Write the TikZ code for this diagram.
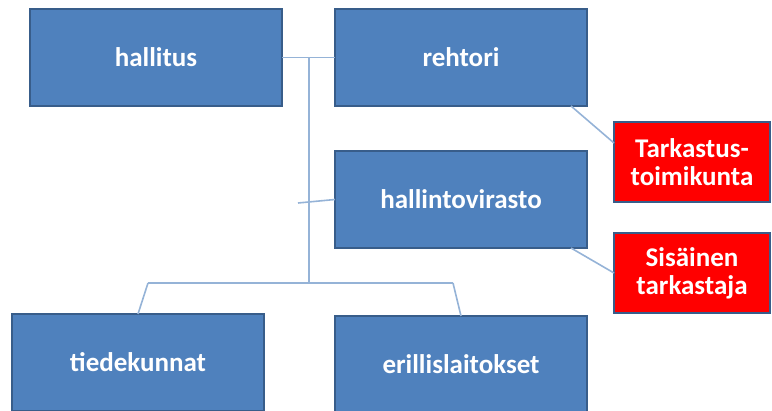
\documentclass[tikz,border=0pt]{standalone}
\usepackage{fontspec}
\setmainfont{Carlito}
\usepackage{xcolor}
\usetikzlibrary{positioning}

\definecolor{boxblue}{HTML}{4F81BD}
\definecolor{boxedge}{HTML}{385D8A}
\definecolor{linkblue}{HTML}{95B3D7}
\definecolor{auditred}{HTML}{FF0000}

\tikzset{
	unit/.style={draw=boxedge, line width=2pt, fill=boxblue, text=white,
		minimum width=252pt, minimum height=97pt, inner sep=0pt, outer sep=0pt,
		font=\fontsize{27}{28}\selectfont\bfseries, align=center},
	audit/.style={unit, fill=auditred, minimum width=156pt, minimum height=80pt},
	link/.style={draw=linkblue, line width=1.6pt}
}

\begin{document}
\begin{tikzpicture}[x=1pt, y=1pt]
		\useasboundingbox (0,0) rectangle (772,-411);
		\node[unit, anchor=north west] (hallitus) at (30,-9) {hallitus};
		\node[unit] (rehtori) [right=53pt of hallitus] {rehtori};
		\node[unit] (virasto) [below=45pt of rehtori] {hallintovirasto};
		\node[unit] (laitokset) [below=68pt of virasto] {erillislaitokset};
		\node[unit, anchor=north west] (tiedekunnat) at (12,-314) {tiedekunnat};
		\node[audit, anchor=north west] (tarkastus) at (614,-122) {Tarkastus-\\toimikunta};
		\node[audit] (sisainen) [below=31pt of tarkastus] {Sisäinen\\tarkastaja};
		
		\coordinate (top) at (309,-58);
		\coordinate (mid) at (309,-283);
		\coordinate (left) at (148,-283);
		\coordinate (right) at (453,-283);
		\coordinate (stub) at (298,-203);
		
		\path[link]
		(hallitus) edge (rehtori)
		(top) edge (mid)
		(left) edge (right)
		(left) edge (tiedekunnat.north)
		(right) edge (laitokset.north)
		(stub) edge (virasto.west)
		([xshift=-16pt]rehtori.south east) edge ([yshift=19pt]tarkastus.west)
		([xshift=-16pt]virasto.south east) edge (sisainen.west);
	\end{tikzpicture}
\end{document}
